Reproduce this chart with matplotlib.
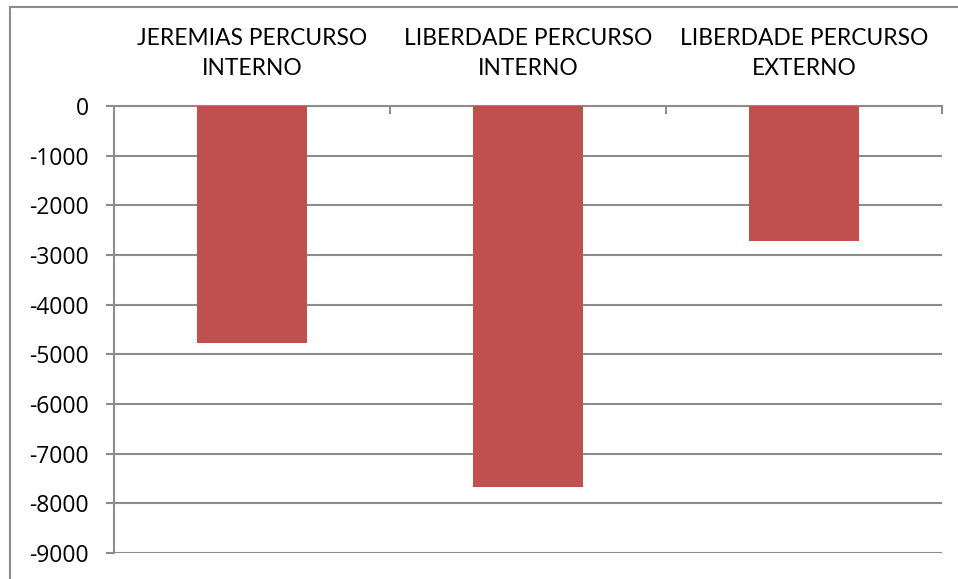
import matplotlib
matplotlib.use("Agg")
import matplotlib.pyplot as plt
from matplotlib.lines import Line2D

# values
categories = ["JEREMIAS PERCURSO\nINTERNO", "LIBERDADE PERCURSO\nINTERNO", "LIBERDADE PERCURSO\nEXTERNO"]
values = [-4770, -7670, -2720]
y_ticks = [0, -1000, -2000, -3000, -4000, -5000, -6000, -7000, -8000, -9000]

plt.rcParams['font.family'] = ['Lato', 'DejaVu Sans']

fig = plt.figure(figsize=(9.58, 5.79), dpi=100)
ax = fig.add_axes([114 / 958, 1 - 553 / 579, (942 - 114) / 958, (553 - 106) / 579])

grey = "#8c8c8c"
x = range(len(categories))
ax.bar(x, values, width=0.4, color="#c0504d", zorder=3)

ax.set_xlim(-0.5, len(categories) - 0.5)
ax.set_ylim(-9000, 0)
ax.set_yticks(y_ticks)
ax.set_yticklabels([str(v) for v in y_ticks], fontsize=16.5, family=['Open Sans', 'DejaVu Sans'])
ax.yaxis.grid(True, color=grey, linewidth=1.5, zorder=0)

ax.xaxis.tick_top()
ax.set_xticks(list(x))
ax.set_xticklabels(categories, fontsize=16.4, linespacing=1.55)
ax.set_xticks([i + 0.5 for i in x], minor=True)
ax.tick_params(axis='x', which='major', length=0, pad=19.5)
ax.tick_params(axis='x', which='minor', direction='in', length=6, width=1.5, color=grey)
ax.tick_params(axis='y', length=6, width=1.5, color=grey, pad=12)

for s in ["right", "bottom"]:
    ax.spines[s].set_visible(False)
for s in ["left", "top"]:
    ax.spines[s].set_color(grey)
    ax.spines[s].set_linewidth(1.5)

# outer chart border (only top and left show in the crop)
top = 1 - 6.5 / 579
left = 9.5 / 958
fig.add_artist(Line2D([left, 1.0], [top, top], color="#8c8c8c", linewidth=1.5))
fig.add_artist(Line2D([left, left], [0.0, top], color="#8c8c8c", linewidth=1.5))

fig.savefig("out.png", dpi=100)
